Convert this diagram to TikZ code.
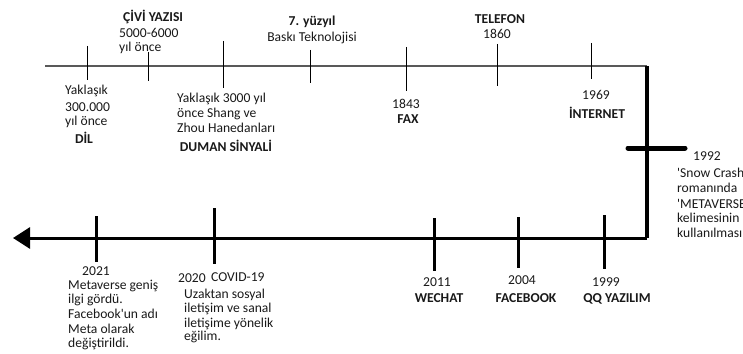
\documentclass[tikz,border=0pt]{standalone}
\usepackage{fontspec}
\setmainfont{Carlito}
\usetikzlibrary{arrows.meta}
\newcommand{\sq}{\textquotesingle}
\begin{document}
\begin{tikzpicture}[x=1pt,y=-1pt,
  txt/.style={inner sep=0pt,font=\fontsize{13.6}{16}\selectfont,text=black!90},
  lt/.style={txt,anchor=west},
  bt/.style={txt,font=\fontsize{13.6}{16}\selectfont\bfseries},
  thinline/.style={draw=black!65,line width=1.4pt},
  thintick/.style={draw=black,line width=1pt},
  thickline/.style={draw=black,line width=3pt},
  thicktick/.style={draw=black,line width=3pt},
]
\useasboundingbox (0,0) rectangle (743,353);
% top line
\coordinate (tA) at (45,66);
\coordinate (tB) at (647,66);
\draw[thinline] (tA) -- (tB);
% top ticks
\foreach \n/\x/\a/\b in {k1/87/46/80, k2/148/52/81, k3/223/41/88, k4/310/50/83, k5/406/47/91, k6/497/44/86, k7/591/43/79}{
  \coordinate (\n t) at (\x,\a);
  \coordinate (\n b) at (\x,\b);
  \draw[thintick] (\n t) -- (\n b);
}
% right vertical and bottom line
\coordinate (bR) at (647,238);
\coordinate (bL) at (13,238);
\draw[draw=black,line width=4pt] (tB) -- (bR);
\draw[thickline,-{Triangle[length=17pt,width=21pt]}] (bR) -- (bL);
% 1992 tick
\coordinate (m1) at (628,148);
\coordinate (m2) at (685,148);
\draw[draw=black,line width=5pt,line cap=round] (m1) -- (m2);
% bottom ticks
\foreach \n/\x/\a/\b in {j1/96/216/262, j2/214/208/264, j3/434/218/271, j4/518/217/268, j5/604/215/269}{
  \coordinate (\n t) at (\x,\a);
  \coordinate (\n b) at (\x,\b);
  \draw[thicktick] (\n t) -- (\n b);
}
% top texts
\node[bt,anchor=west] (civi) at (123,17) {ÇİVİ YAZISI};
\node[lt] (civi1) at (119,33) {5000-6000};
\node[lt] (civi2) at (119,48) {yıl önce};
\node[bt] (yuz) at (312,22) {7. yüzyıl};
\node[txt] (bask) at (312,38) {Baskı Teknolojisi};
\node[lt] (dil1) at (65,91) {Yaklaşık};
\node[lt] (dil2) at (65,107) {300.000};
\node[lt] (dil3) at (65,122) {yıl önce};
\node[bt] (dil) at (84,138) {DİL};
\node[lt] (sh1) at (177,99) {Yaklaşık 3000 yıl};
\node[lt] (sh2) at (177,114) {önce Shang ve};
\node[lt] (sh3) at (177,128) {Zhou Hanedanları};
\node[bt] (dum) at (226,146) {DUMAN SİNYALİ};
\node[bt] (tel) at (500,19) {TELEFON};
\node[txt] (tel1) at (497,34) {1860};
\node[txt] (fax1) at (406,104) {1843};
\node[bt] (fax) at (408,119) {FAX};
\node[txt] (int1) at (596,95) {1969};
\node[bt] (int) at (597,113) {İNTERNET};
\node[txt] (sc0) at (707,156) {1992};
\node[lt] (sc1) at (677,173) {\sq Snow Crash\sq};
\node[lt] (sc2) at (677,188) {romanında};
\node[lt] (sc3) at (677,204) {\sq METAVERSE\sq};
\node[lt] (sc4) at (677,218) {kelimesinin};
\node[lt] (sc5) at (677,233) {kullanılması};
% bottom texts
\node[txt] (m0) at (96,271) {2021};
\node[lt] (m1t) at (68,286) {Metaverse geniş};
\node[lt] (m2t) at (68,300) {ilgi gördü.};
\node[lt] (m3t) at (68,314) {Facebook\sq un adı};
\node[lt] (m4t) at (68,329) {Meta olarak};
\node[lt] (m5t) at (68,344) {değiştirildi.};
\node[lt] (c0) at (178,278) {2020};
\node[lt] (c1) at (211,277) {COVID-19};
\node[lt] (c2) at (184,295) {Uzaktan sosyal};
\node[lt] (c3) at (184,309) {iletişim ve sanal};
\node[lt] (c4) at (184,324) {iletişime yönelik};
\node[lt] (c5) at (184,337) {eğilim.};
\node[txt] (w0) at (437,282) {2011};
\node[bt] (w1) at (439,298) {WECHAT};
\node[txt] (f0) at (522,280) {2004};
\node[bt] (f1) at (526,298) {FACEBOOK};
\node[txt] (q0) at (606,282) {1999};
\node[bt] (q1) at (617,299) {QQ YAZILIM};
\end{tikzpicture}
\end{document}
